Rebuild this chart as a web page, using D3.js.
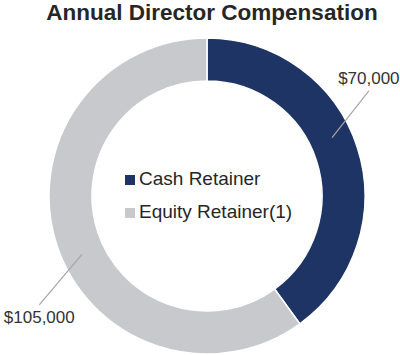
<!DOCTYPE html>
<html>
<head>
<meta charset="utf-8">
<script src="https://cdn.jsdelivr.net/npm/d3@7"></script>
<style>
  body { margin: 0; background: #fff; }
  text { font-family: "Liberation Sans", Arial, sans-serif; }
</style>
</head>
<body>
<div class="container"></div>
<script>
var categories = ["Cash Retainer", "Equity Retainer(1)"];
var values = [70000, 105000];
var valueLabels = ["$70,000", "$105,000"];
var colors = ["#1d3464", "#c8c9cc"];

var width = 400, height = 355;
var cx = 207, cy = 196;
var outerR = 158, innerR = 115;

var svg = d3.select(".container")
  .append("svg")
    .attr("width", width)
    .attr("height", height);

// title
svg.append("text")
  .attr("x", 212)
  .attr("y", 20)
  .attr("text-anchor", "middle")
  .style("font-size", "22.5px")
  .style("font-weight", "bold")
  .attr("fill", "#262626")
  .text("Annual Director Compensation");

var g = svg.append("g")
  .attr("transform", "translate(" + cx + "," + cy + ")");

var pie = d3.pie().sort(null).value(function(d) { return d; });
var arcs = pie(values);

var arc = d3.arc()
  .innerRadius(innerR)
  .outerRadius(outerR);

g.selectAll("path")
  .data(arcs)
  .enter()
  .append("path")
    .attr("d", arc)
    .attr("fill", function(d, i) { return colors[i]; })
    .attr("stroke", "#fff")
    .attr("stroke-width", 1.5);

// leader lines + value labels
var off1 = 7 * Math.PI / 180, off2 = 15 * Math.PI / 180;
arcs.forEach(function(d, i) {
  var mid = (d.startAngle + d.endAngle) / 2;
  var p1 = d3.pointRadial(mid - off1, 138);
  var p2 = d3.pointRadial(mid - off2, i == 0 ? 193 : 200);
  g.append("line")
    .attr("x1", p1[0]).attr("y1", p1[1])
    .attr("x2", p2[0]).attr("y2", p2[1])
    .style("stroke", "#a6a6a6")
    .style("stroke-width", 1.2);
  g.append("text")
    .attr("x", p2[0])
    .attr("y", p2[1] < 0 ? p2[1] - 7 : p2[1] + 18)
    .attr("text-anchor", "middle")
    .style("font-size", "17px")
    .attr("fill", "#333")
    .text(valueLabels[i]);
});

// legend in the middle
var legend = svg.append("g")
  .attr("transform", "translate(125,175)");

legend.selectAll("rect")
  .data(categories)
  .enter()
  .append("rect")
    .attr("x", 0)
    .attr("y", function(d, i) { return i * 33; })
    .attr("width", 10)
    .attr("height", 10)
    .attr("fill", function(d, i) { return colors[i]; });

legend.selectAll("text")
  .data(categories)
  .enter()
  .append("text")
    .attr("x", 14)
    .attr("y", function(d, i) { return i * 33 + 10; })
    .style("font-size", "19px")
    .attr("fill", "#262626")
    .text(function(d) { return d; });
</script>
</body>
</html>
